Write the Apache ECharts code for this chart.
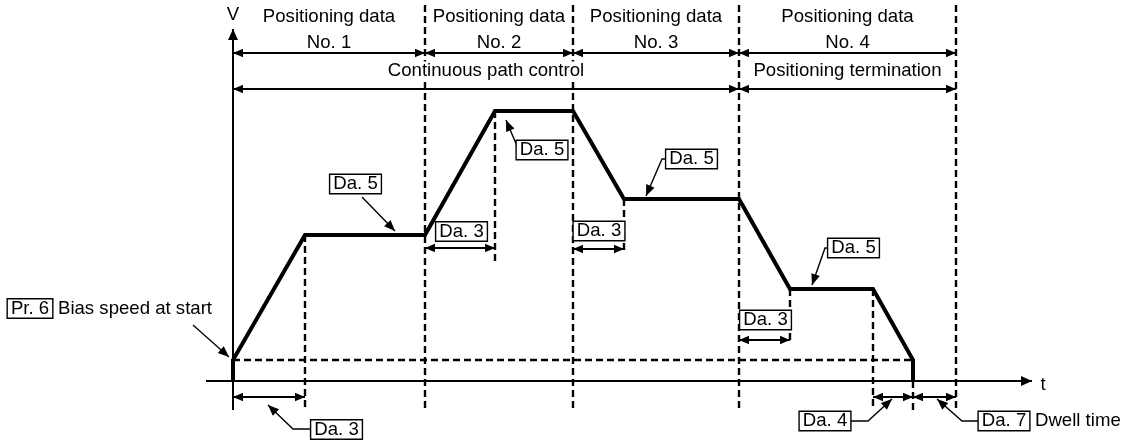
<!DOCTYPE html>
<html><head><meta charset="utf-8">
<script src="https://cdn.jsdelivr.net/npm/echarts@6/dist/echarts.min.js"></script>
<style>html,body{margin:0;padding:0;background:#fff}#c{width:1121px;height:441px}</style>
</head><body><div id="c"></div>
<script>
// ---- data (time t, speed V in chart units) ----
const profileT = [0, 0, 72, 192, 262, 340, 391, 506, 557, 640, 680, 680];
const profileV = [0, 21, 146, 146, 270, 270, 182, 182, 92, 92, 21, 0];
const biasSpeed = 21;
const biasEndT = 680;
const segBounds = [0, 192, 340, 506, 723];
const segLabels = ['Positioning data\nNo. 1', 'Positioning data\nNo. 2', 'Positioning data\nNo. 3', 'Positioning data\nNo. 4'];
const ctrlBounds = [0, 506, 723];
const ctrlLabels = ['Continuous path control', 'Positioning termination'];
// dashed guide lines: [t, vTop, vBottom]
const guideLines = [[192, 376, -29], [340, 376, -29], [506, 376, -29], [723, 376, -29],
  [72, 146, -29], [262, 270, 119], [391, 182, 129], [557, 92, 39], [640, 92, -29], [680, 0, -29]];
// dimension arrows: [t1, t2, v]
const dimArrows = [[0, 72, -16], [192, 262, 133], [340, 391, 132], [506, 557, 41], [640, 680, -16], [680, 723, -16]];
// boxed labels: text, [t, v]
const boxTexts = ['Da. 3', 'Da. 3', 'Da. 3', 'Da. 3', 'Da. 5', 'Da. 5', 'Da. 5', 'Da. 5', 'Da. 4', 'Da. 7', 'Pr. 6'];
const boxPos = [[103.5, -48.5], [228.5, 149.5], [366, 150], [532.5, 61], [122.5, 197], [309, 231], [458.5, 222], [620.5, 133], [592, -40], [771, -40], [-203, 72.5]];
// plain side texts
const sideTexts = ['Bias speed at start', 'Dwell time'];
const sidePos = [[-175, 72.5], [802, -40]];
// leader lines ending in an arrow
const leaders = [
  [[77, -48], [60, -48], [35, -24]],
  [[129, 184], [162, 150]],
  [[284, 235], [273, 261]],
  [[434, 222], [429, 222], [413, 185]],
  [[596, 133], [592, 133], [579, 96]],
  [[615, -40], [635, -40], [659, -18]],
  [[746, -40], [729, -40], [704, -18]],
  [[-40, 56], [-4, 24]]
];
const axisLines = [[0, -29, 0, 352], [-27, 0, 799, 0]];
const axisNames = ['V', 't'];
const axisNamePos = [[0, 366], [810, -4]];
const headerV = 351, row1V = 328, row2V = 292, row2TextV = 310;

const FONT = '"Liberation Sans", Arial, Helvetica, sans-serif';
const FS = 18.6;
const chart = echarts.init(document.getElementById('c'), null, {renderer: 'canvas'});

function head(tip, from, len, hw) {
  const dx = tip[0] - from[0], dy = tip[1] - from[1];
  const d = Math.hypot(dx, dy) || 1;
  const ux = dx / d, uy = dy / d;
  const bx = tip[0] - ux * len, by = tip[1] - uy * len;
  return {type: 'polygon', shape: {points: [tip, [bx - uy * hw, by + ux * hw], [bx + uy * hw, by - ux * hw]]}, style: {fill: '#000'}};
}
function dblArrow(p1, p2, lw) {
  return [
    {type: 'line', shape: {x1: p1[0], y1: p1[1], x2: p2[0], y2: p2[1]}, style: {stroke: '#000', lineWidth: lw}},
    head(p1, p2, 10, 4.2), head(p2, p1, 10, 4.2)
  ];
}

const series = [];
series.push({
  type: 'line', data: profileT.map((t, i) => [t, profileV[i]]), symbol: 'none', z: 5,
  lineStyle: {color: '#000', width: 4, join: 'miter', cap: 'butt'}, animation: false
});
series.push({
  type: 'line', data: [[0, biasSpeed], [biasEndT, biasSpeed]], symbol: 'none', z: 3,
  lineStyle: {color: '#000', width: 2.4, type: [7, 4]}, animation: false
});
series.push({
  type: 'custom', data: guideLines, z: 3, animation: false,
  renderItem: (p, api) => {
    const a = api.coord([api.value(0), api.value(1)]), b = api.coord([api.value(0), api.value(2)]);
    return {type: 'line', shape: {x1: a[0], y1: a[1], x2: b[0], y2: b[1]}, style: {stroke: '#000', lineWidth: 2.4, lineDash: [7, 4]}};
  }
});
series.push({
  type: 'custom', data: dimArrows, z: 6, animation: false,
  renderItem: (p, api) => {
    const a = api.coord([api.value(0), api.value(2)]), b = api.coord([api.value(1), api.value(2)]);
    return {type: 'group', children: dblArrow(a, b, 2)};
  }
});
// header rows
series.push({
  type: 'custom', data: segLabels.map((s, i) => [segBounds[i], segBounds[i + 1]]), z: 6, animation: false,
  renderItem: (p, api) => {
    const t1 = api.value(0), t2 = api.value(1);
    const a = api.coord([t1, row1V]), b = api.coord([t2, row1V]);
    const c = api.coord([(t1 + t2) / 2, headerV]);
    return {type: 'group', children: dblArrow(a, b, 2).concat([{
      type: 'text', x: c[0], y: c[1],
      style: {text: segLabels[p.dataIndex], fontSize: FS, fontFamily: FONT, fill: '#000', align: 'center', verticalAlign: 'middle', lineHeight: 26}
    }])};
  }
});
series.push({
  type: 'custom', data: ctrlLabels.map((s, i) => [ctrlBounds[i], ctrlBounds[i + 1]]), z: 6, animation: false,
  renderItem: (p, api) => {
    const t1 = api.value(0), t2 = api.value(1);
    const a = api.coord([t1, row2V]), b = api.coord([t2, row2V]);
    const c = api.coord([(t1 + t2) / 2, row2TextV]);
    return {type: 'group', children: dblArrow(a, b, 2).concat([{
      type: 'text', x: c[0], y: c[1],
      style: {text: ctrlLabels[p.dataIndex], fontSize: FS, fontFamily: FONT, fill: '#000', align: 'center', verticalAlign: 'middle', backgroundColor: '#fff'}
    }])};
  }
});
// axes
series.push({
  type: 'custom', data: axisLines, z: 7, animation: false,
  renderItem: (p, api) => {
    const a = api.coord([api.value(0), api.value(1)]), b = api.coord([api.value(2), api.value(3)]);
    const n = api.coord(axisNamePos[p.dataIndex]);
    return {type: 'group', children: [
      {type: 'line', shape: {x1: a[0], y1: a[1], x2: b[0], y2: b[1]}, style: {stroke: '#000', lineWidth: 2}},
      head(b, a, 11, 5),
      {type: 'text', x: n[0], y: n[1], style: {text: axisNames[p.dataIndex], fontSize: FS, fontFamily: FONT, fill: '#000', align: 'center', verticalAlign: 'middle'}}
    ]};
  }
});
// leaders
series.push({
  type: 'custom', data: leaders.map((l, i) => [i]), z: 8, animation: false,
  renderItem: (p, api) => {
    const pts = leaders[p.dataIndex].map(q => api.coord(q));
    const n = pts.length;
    return {type: 'group', children: [
      {type: 'polyline', shape: {points: pts}, style: {stroke: '#000', lineWidth: 1.4, fill: null}},
      head(pts[n - 1], pts[n - 2], 11, 4.5)
    ]};
  }
});
// boxed labels
series.push({
  type: 'custom', data: boxPos, z: 9, animation: false,
  renderItem: (p, api) => {
    const c = api.coord([api.value(0), api.value(1)]);
    return {type: 'text', x: c[0], y: c[1], style: {
      text: boxTexts[p.dataIndex], fontSize: FS, fontFamily: FONT, fill: '#000', align: 'center', verticalAlign: 'middle',
      lineHeight: 17, padding: [1, 3, 0, 3], backgroundColor: '#fff', borderColor: '#000', borderWidth: 1.4
    }};
  }
});
series.push({
  type: 'custom', data: sidePos, z: 9, animation: false,
  renderItem: (p, api) => {
    const c = api.coord([api.value(0), api.value(1)]);
    return {type: 'text', x: c[0], y: c[1], style: {
      text: sideTexts[p.dataIndex], fontSize: FS, fontFamily: FONT, fill: '#000', align: 'left', verticalAlign: 'middle'
    }};
  }
});

chart.setOption({
  animation: false,
  backgroundColor: '#fff',
  grid: {left: 0, right: 0, top: 0, bottom: 0, containLabel: false},
  xAxis: {type: 'value', min: -233, max: 888, show: false},
  yAxis: {type: 'value', min: -60, max: 381, show: false},
  series: series
});
</script></body></html>
